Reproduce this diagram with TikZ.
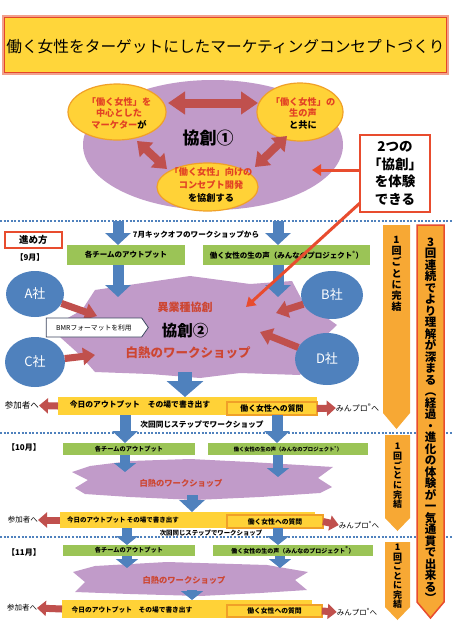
\documentclass[tikz,border=0pt]{standalone}
\usepackage{fontspec}
\setmainfont{Noto Sans CJK JP}
\usetikzlibrary{arrows.meta,shapes.geometric,shapes.symbols}
\definecolor{titleY}{RGB}{255,214,58}
\definecolor{titleR}{RGB}{228,70,40}
\definecolor{titleS}{RGB}{242,160,140}
\definecolor{purpA}{RGB}{193,155,201}
\definecolor{yelA}{RGB}{255,210,55}
\definecolor{yelB}{RGB}{240,160,40}
\definecolor{darkR}{RGB}{192,80,77}
\definecolor{redT}{RGB}{226,66,36}
\definecolor{blueA}{RGB}{79,129,189}
\definecolor{greenA}{RGB}{155,196,86}
\definecolor{orangeA}{RGB}{247,168,52}
\definecolor{redL}{RGB}{232,76,46}
\definecolor{wsR}{RGB}{205,70,50}
\definecolor{bmrB}{RGB}{60,70,95}
\newcommand\fsz[2]{\fontsize{#1}{#2}\selectfont}
\begin{document}
\begin{tikzpicture}[x=1pt,y=-1pt,
  every node/.style={inner sep=0pt,outer sep=0pt},
  yell/.style={ellipse, fill=yelA, draw=yelB, line width=1.2pt},
  ytxt/.style={font=\bfseries\fsz{9.2}{11.5}, align=center, text=redT},
  dbl/.style={draw=darkR, line width=9pt, {Triangle[length=17pt,width=22pt]}-{Triangle[length=17pt,width=22pt]}},
  dbls/.style={draw=darkR, line width=8pt, {Triangle[length=13pt,width=19pt]}-{Triangle[length=13pt,width=19pt]}},
  barrow/.style={draw=blueA, line width=11pt, -{Triangle[length=12pt,width=25pt]}},
  barrows/.style={draw=blueA, line width=10pt, -{Triangle[length=9pt,width=22pt]}},
  bbig/.style={draw=blueA, line width=14pt, -{Triangle[length=16pt,width=36pt]}},
  rarrow/.style={draw=darkR, line width=7pt, -{Triangle[length=12pt,width=17pt]}},
  rsmall/.style={draw=darkR, line width=7pt, -{Triangle[length=9pt,width=15pt]}},
  redline/.style={draw=redL, line width=3pt, -{Triangle[length=9pt,width=11pt]}},
  greenbox/.style={fill=greenA, font=\bfseries},
  outbar/.style={fill=yelA},
  qbox/.style={fill=yelA, draw=yelB, line width=1.3pt},
  circ/.style={ellipse, fill=blueA, text=white, font=\fsz{13}{15}},
  vtxt/.style={align=center},
  dotline/.style={draw=blueA, line width=2pt, dash pattern=on 2pt off 1.6pt},
  wstxt/.style={text=wsR, font=\bfseries}
]
\useasboundingbox (0,0) rectangle (452,640);
\fill[white] (0,0) rectangle (452,640);

% ---------- title
\node[draw=titleR, line width=1.8pt, fill=titleY, preaction={draw=titleS,line width=4.5pt},
      minimum width=442pt, minimum height=55pt] (title) at (225.5,45) {};
\node[font=\fsz{15.7}{18}] (titletxt) at (225.5,47) {働く女性をターゲットにしたマーケティングコンセプトづくり};

% ---------- co-creation 1
\node[ellipse, fill=purpA, minimum width=260pt, minimum height=130pt] (kyo1) at (213,145) {};
\node[yell, minimum width=98pt, minimum height=56pt] (eL) at (117,112) {};
\node[yell, minimum width=86pt, minimum height=58pt] (eR) at (300,112) {};
\node[yell, minimum width=101pt, minimum height=48pt] (eB) at (207.5,187) {};

\coordinate (h1) at (168,103); \coordinate (h2) at (258,103);
\coordinate (dl1) at (137,141); \coordinate (dl2) at (167,169);
\coordinate (dr1) at (255,167); \coordinate (dr2) at (287,136);
\draw[dbl] (h1) -- (h2);
\draw[dbls] (dl1) -- (dl2);
\draw[dbls] (dr1) -- (dr2);

\node[ytxt] (eLt) at (119,113) {「働く女性」を\\中心とした\\マーケター\textcolor{black}{が}};
\node[ytxt] (eRt) at (303,113.5) {「働く女性」の\\生の声\\\textcolor{black}{と共に}};
\node[ytxt, font=\bfseries\fsz{9.2}{13}] (eBt) at (211,185) {「働く女性」向けの\\コンセプト開発\\\textcolor{black}{を協創する}};
\node[font=\bfseries\fsz{17}{20}] (k1t) at (208,138) {協創①};

\node[draw=redL, line width=2pt, fill=white, minimum width=70pt, minimum height=77pt,
      align=center, font=\bfseries\fsz{13.5}{17.5}] (two) at (395,173.5) {2つの\\「協創」\\を体験\\できる};

% ---------- dotted separators
\draw[dotline] (0,221) -- (452,221);
\draw[dotline] (0,433) -- (452,433);
\draw[dotline] (0,536.5) -- (452,536.5);

% ---------- right column arrows
\fill[orangeA] (383,225) -- (410,225) -- (410,413) -- (396.5,429) -- (383,413) -- cycle;
\fill[orangeA] (385,435) -- (410,435) -- (410,518) -- (397.5,531) -- (385,518) -- cycle;
\fill[orangeA] (385,542) -- (410,542) -- (410,607) -- (397.5,620) -- (385,607) -- cycle;
\filldraw[fill=orangeA, draw=redL, line width=1.5pt] (417,225) -- (444,225) -- (444,602) -- (430.5,618) -- (417,602) -- cycle;
\node[vtxt, font=\bfseries\fsz{10}{11.2}] (v1) at (396.5,274) {1\\回\\ご\\と\\に\\完\\結};
\node[vtxt, font=\bfseries\fsz{9}{9.7}] (v2) at (397.5,476) {1\\回\\ご\\と\\に\\完\\結};
\node[vtxt, font=\bfseries\fsz{9}{9.5}] (v3) at (397.5,576.5) {1\\回\\ご\\と\\に\\完\\結};
\node[vtxt, font=\bfseries\fsz{11.5}{11.5}] (vbig) at (430.5,420) {3\\回\\連\\続\\で\\よ\\り\\理\\解\\が\\深\\ま\\る\\︵\\経\\過\\・\\進\\化\\の\\体\\験\\が\\一\\気\\通\\貫\\で\\出\\来\\る\\︶};

% ---------- month 1
\node[draw=redL, line width=1.5pt, fill=white, minimum width=57pt, minimum height=16pt,
      font=\bfseries\fsz{9.5}{11}] (susume) at (33.5,240) {進め方};
\node[font=\bfseries\fsz{8}{10}] (m9) at (30,257) {【9月】};
\node[font=\bfseries\fsz{7.6}{9}] (kick) at (196,235) {7月キックオフのワークショップから};

\node[greenbox, minimum width=118pt, minimum height=20pt, font=\bfseries\fsz{7.5}{9}] (g1L) at (126,255) {各チームのアウトプット};
\node[greenbox, minimum width=167pt, minimum height=20pt, font=\bfseries\fsz{7.5}{9}] (g1R) at (286.5,255) {働く女性の生の声（みんなのプロジェクト\textsuperscript{®}）};

\coordinate (t1L) at (118,221); \coordinate (t1R) at (278,221);
\draw[barrow] (t1L) -- (t1L |- g1L.north);
\draw[barrow] (t1R) -- (t1R |- g1R.north);

% workshop shape 1
\fill[purpA] (95,290) -- (190,276) -- (250,284) -- (292,281) -- (302,300) -- (337,325) -- (318,343)
   -- (300,375) -- (240,373) -- (200,378) -- (150,374) -- (95,372) -- (80,355) -- (50,328) -- (82,310) -- cycle;

\coordinate (w1L) at (118,297); \coordinate (w1R) at (278,297);
\draw[barrow] (g1L.south -| w1L) -- (w1L);
\draw[barrow] (g1R.south -| w1R) -- (w1R);

\node[circ, minimum width=58pt, minimum height=46pt] (A) at (35,294) {A社};
\node[circ, minimum width=62pt, minimum height=48pt] (B) at (332,295) {B社};
\node[circ, minimum width=60pt, minimum height=50pt] (C) at (35,362) {C社};
\node[circ, minimum width=64pt, minimum height=52pt] (D) at (327,359) {D社};
\coordinate (aT) at (97,316); \coordinate (bT) at (276,313);
\coordinate (cT) at (95,355); \coordinate (dT) at (260,332);
\draw[rarrow] (A) -- (aT);
\draw[rarrow] (B) -- (bT);
\draw[rarrow] (C) -- (cT);
\draw[rarrow] (D) -- (dT);

\node[signal, signal to=east, signal pointer angle=110, draw=bmrB, line width=0.8pt, fill=white,
      minimum width=102pt, minimum height=19pt, font=\fsz{6.8}{8}] (bmr) at (94,327.5) {BMRフォーマットを利用};

\node[wstxt, font=\bfseries\fsz{11}{13}] (igyo) at (185,307) {異業種協創};
\node[font=\bfseries\fsz{15.5}{18}] (k2t) at (185,331) {協創②};
\node[wstxt, font=\bfseries\fsz{12.5}{15}] (ws1) at (188,353) {白熱のワークショップ};

% output bar 1
\node[outbar, minimum width=259pt, minimum height=18pt] (y1) at (187.5,406) {};
\node[qbox, minimum width=90pt, minimum height=13pt, font=\bfseries\fsz{7.9}{9}] (q1) at (272,408.5) {働く女性への質問};
\node[font=\bfseries\fsz{7.8}{9}] (o1) at (140,405) {今日のアウトプット　その場で書き出す};
\coordinate (w1B) at (185,372);
\draw[bbig] (w1B) -- (w1B |- y1.north);
\node[font=\fsz{8.5}{10}] (pa1) at (22,405.5) {参加者へ};
\node[font=\fsz{8}{10}] (mp1) at (357.5,408) {みんプロ\textsuperscript{®}へ};
\draw[rsmall] (y1.west) -- (pa1.east);
\draw[rsmall] (q1.east) -- (mp1.west);
\node[font=\bfseries\fsz{7.7}{9}] (n1) at (202,425) {次回同じステップでワークショップ};

% ---------- month 2
\node[font=\bfseries\fsz{8}{10}] (m10) at (24,447) {【10月】};
\node[greenbox, minimum width=132pt, minimum height=12pt, font=\bfseries\fsz{6.2}{7}] (g2L) at (129,449) {各チームのアウトプット};
\node[greenbox, minimum width=160pt, minimum height=12pt, font=\bfseries\fsz{5.3}{6.5}] (g2R) at (288,449) {働く女性の生の声（みんなのプロジェクト\textsuperscript{®}）};
\coordinate (a1L) at (125,0); \coordinate (a1R) at (277,0);
\draw[barrow] (y1.south -| a1L) -- (g2L.north -| a1L);
\draw[barrow] (y1.south -| a1R) -- (g2R.north -| a1R);

\fill[purpA] (72,472) -- (90,466) -- (130,461) -- (190,459) -- (250,462) -- (300,465) -- (333,467)
   -- (318,478) -- (332,487) -- (320,493) -- (260,497) -- (195,500) -- (130,497) -- (85,494)
   -- (75,488) -- (88,480) -- cycle;
\coordinate (w2L) at (125,472); \coordinate (w2R) at (278,477);
\draw[barrows] (g2L.south -| w2L) -- (w2L);
\draw[barrows] (g2R.south -| w2R) -- (w2R);
\node[wstxt, font=\bfseries\fsz{8.3}{10}] (ws2) at (181,483) {白熱のワークショップ};

\node[outbar, minimum width=255pt, minimum height=16pt] (y2) at (187.5,520) {};
\node[qbox, minimum width=96pt, minimum height=13pt, font=\bfseries\fsz{6.8}{8}] (q2) at (275,521.5) {働く女性への質問};
\node[font=\bfseries\fsz{6.5}{8}] (o2) at (123,520) {今日のアウトプット その場で書き出す};
\coordinate (w2B) at (192,495);
\draw[barrow] (w2B) -- (w2B |- y2.north);
\node[font=\fsz{7.5}{9}] (pa2) at (23,520) {参加者へ};
\node[font=\fsz{7.5}{9}] (mp2) at (359,525) {みんプロ\textsuperscript{®}へ};
\draw[rsmall] (y2.west) -- (pa2.east);
\draw[rsmall] (q2.east) -- (mp2.west);

% ---------- month 3
\node[font=\bfseries\fsz{8}{10}] (m11) at (24,552) {【11月】};
\node[greenbox, minimum width=132pt, minimum height=11pt, font=\bfseries\fsz{6.2}{7}] (g3L) at (129,550.5) {各チームのアウトプット};
\node[greenbox, minimum width=160pt, minimum height=11pt, font=\bfseries\fsz{6}{7}] (g3R) at (293,550.5) {働く女性の生の声（みんなのプロジェクト\textsuperscript{®}）};
\coordinate (a2L) at (127,0); \coordinate (a2R) at (278,0);
\draw[barrows] (y2.south -| a2L) -- (g3L.north -| a2L);
\draw[barrows] (y2.south -| a2R) -- (g3R.north -| a2R);
\node[font=\bfseries\fsz{6.4}{8}] (n2) at (211,533) {次回同じステップでワークショップ};

\fill[purpA] (73,572) -- (95,566) -- (167,562) -- (267,565) -- (308,572) -- (295,580) -- (307,590)
   -- (260,593) -- (200,596) -- (130,594) -- (75,592) -- (85,582) -- cycle;
\coordinate (w3L) at (127,568); \coordinate (w3R) at (280,568);
\draw[barrows] (g3L.south -| w3L) -- (w3L);
\draw[barrows] (g3R.south -| w3R) -- (w3R);
\node[wstxt, font=\bfseries\fsz{8.3}{10}] (ws3) at (184,580) {白熱のワークショップ};

\node[outbar, minimum width=250pt, minimum height=18pt] (y3) at (187,609) {};
\node[qbox, minimum width=95pt, minimum height=12pt, font=\bfseries\fsz{6.8}{8}] (q3) at (274.5,611) {働く女性への質問};
\node[font=\bfseries\fsz{6.7}{8}] (o3) at (132,610) {今日のアウトプット　その場で書き出す};
\coordinate (w3B) at (192,590);
\draw[barrows] (w3B) -- (w3B |- y3.north);
\node[font=\fsz{7.5}{9}] (pa3) at (22,608) {参加者へ};
\node[font=\fsz{7.5}{9}] (mp3) at (357,612) {みんプロ\textsuperscript{®}へ};
\draw[rsmall] (y3.west) -- (pa3.east);
\draw[rsmall] (q3.east) -- (mp3.west);

% ---------- red connectors from the "2つの協創" box
\coordinate (r1) at (312,170);
\coordinate (r2) at (246,307);
\draw[redline] ([yshift=3.5pt]two.west) -- (r1);
\draw[redline] ([yshift=9pt]two.south west) -- (r2);
\end{tikzpicture}
\end{document}
